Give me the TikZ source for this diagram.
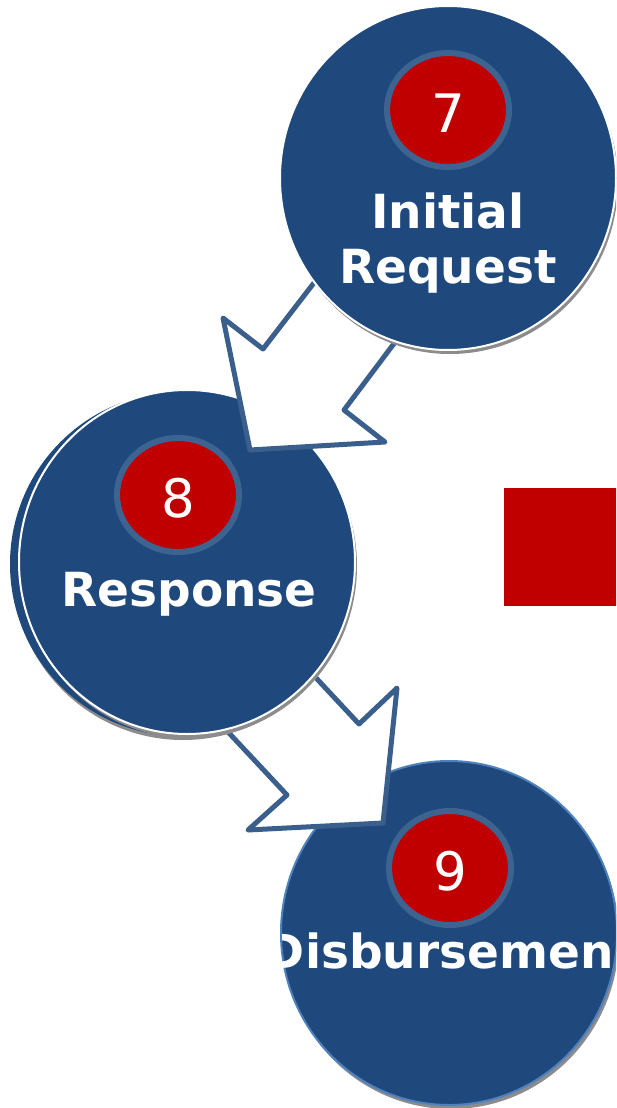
\documentclass[tikz,border=0pt]{standalone}
\usepackage{fontspec}
\setmainfont{DejaVu Sans}
\usetikzlibrary{shapes.geometric,shadows}
\definecolor{stageblue}{HTML}{1F497D}
\definecolor{stepred}{HTML}{C00000}
\definecolor{ringblue}{HTML}{3D6491}
\definecolor{arrowblue}{HTML}{3A5F8C}
\definecolor{edgeblue}{HTML}{4F81BD}
\tikzset{
 stage/.style={ellipse,fill=stageblue,draw=white,line width=2pt,minimum width=336pt,minimum height=344pt,inner sep=0pt,
   drop shadow={shadow xshift=2pt,shadow yshift=-4pt,fill=black!45,opacity=1}},
 stepnum/.style={ellipse,fill=stepred,draw=ringblue,line width=6pt,minimum width=122pt,minimum height=114pt,inner sep=0pt},
 numtext/.style={text=white,font=\fontsize{53}{53}\selectfont,anchor=base,inner sep=0pt},
 stagetext/.style={text=white,font=\fontsize{47}{55}\selectfont\bfseries,anchor=base,inner sep=0pt},
 blockarrow/.style={fill=white,draw=arrowblue,line width=5pt,line join=round}
}

\begin{document}
\begin{tikzpicture}[x=1pt,y=-1pt]
\useasboundingbox (0,0) rectangle (616,1108);
\clip (0,0) rectangle (616,1108);

\fill[stepred] (504,488) rectangle (620,606);

\node[stage,draw=edgeblue] (disb) at (449,933) {};
\node[stepnum] (num9) at (450,868) {};
\node[numtext] (num9txt) at (450,890) {9};
\begin{scope}
\clip (282,760) rectangle (612,1108);
\node[stagetext] (disbtxt) at (451,968) {Disbursement};
\end{scope}

\coordinate (a2s1) at (290,650);
\coordinate (a2n1) at (359,724);
\coordinate (a2w1) at (397,688);
\coordinate (a2tip) at (383,823);
\coordinate (a2w2) at (248,830);
\coordinate (a2n2) at (287,795);
\coordinate (a2s2) at (200,702);
\draw[blockarrow] (a2s1) -- (a2n1) -- (a2w1) -- (a2tip) -- (a2w2) -- (a2n2) -- (a2s2) -- cycle;

\node[ellipse,fill=stageblue,minimum width=342pt,minimum height=344pt,inner sep=0pt,
  drop shadow={shadow xshift=2pt,shadow yshift=-4pt,fill=black!45,opacity=1}] (respback) at (181,564) {};
\node[stage] (resp) at (187,562) {};
\node[stepnum] (num8) at (178,495) {};
\node[numtext] (num8txt) at (178,517) {8};
\node[stagetext] (resptxt) at (189,606) {Response};

\coordinate (a1s1) at (330,262);
\coordinate (a1n1) at (263,349);
\coordinate (a1w1) at (223,318);
\coordinate (a1tip) at (250,450);
\coordinate (a1w2) at (385,442);
\coordinate (a1n2) at (344,410);
\coordinate (a1s2) at (411,321);
\draw[blockarrow] (a1s1) -- (a1n1) -- (a1w1) -- (a1tip) -- (a1w2) -- (a1n2) -- (a1s2) -- cycle;

\node[stage] (init) at (448,178) {};
\node[stepnum] (num7) at (448,110) {};
\node[numtext] (num7txt) at (448,132) {7};
\node[stagetext] (inittxt1) at (448,228) {Initial};
\node[stagetext] (inittxt2) at (448,283) {Request};
\end{tikzpicture}
\end{document}
